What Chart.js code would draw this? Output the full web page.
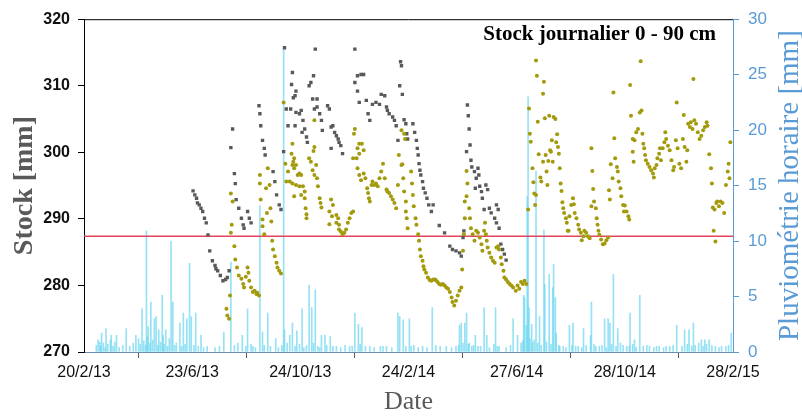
<!DOCTYPE html>
<html>
<head>
<meta charset="utf-8">
<script src="https://cdn.jsdelivr.net/npm/chart.js@4.4.1/dist/chart.umd.min.js"></script>
<style>
  html, body { margin: 0; padding: 0; background: #fff; }
</style>
</head>
<body>
<canvas id="myChart" width="802" height="416"></canvas>
<script>
// x = days since 20/2/13
const tickDays = [0, 123, 246, 369, 492, 615, 738];
const tickLabels = ["20/2/13", "23/6/13", "24/10/13", "24/2/14", "27/6/14", "28/10/14", "28/2/15"];
const seuil = 287.4;

// stock, series 1 (grey squares) [day, mm]
const stockGris = [
  [124,294.2],[126,293.6],[128,293.1],[129,292.4],[131,292.1],[133,291.6],[135,291.1],[137,290.1],[139,289.4],
  [141,287.6],[143,285.2],[146,283.7],[149,283.0],[150,282.5],[152,282.2],[155,281.5],[158,280.7],[161,280.9],[163,281.2],[165,282.2],
  [167,300.7],[169,303.5],[171,296.8],[172,295.3],[173,292.9],[176,291.6],[179,290.1],[181,289.1],[182,288.6],[186,291.1],[188,290.1],[190,289.4],
  [199,307.0],[200,305.8],[201,304.0],[203,301.8],[205,300.6],[206,299.6],[215,297.1],[217,295.6],[219,293.6],[222,292.1],[224,291.4],
  [227,300.1],[228,315.7],[230,306.5],[232,304.0],[235,306.5],[236,310.2],[237,312.0],[238,308.2],[240,308.5],[241,309.2],[241,306.0],[240,304.0],
  [245,305.8],[247,306.3],[248,303.0],[249,304.8],[251,303.5],[253,302.3],[254,301.5],
  [256,310.0],[258,310.5],[261,311.5],[263,315.5],[260,308.0],[265,308.0],[262,306.5],[265,306.8],[268,305.8],[270,304.8],[271,303.3],
  [277,307.0],[279,306.5],[281,303.8],[281,300.6],[283,304.0],[285,303.0],[287,302.5],[289,302.0],[290,301.5],[292,301.0],[294,299.8],
  [308,315.5],[308,310.5],[311,311.5],[311,309.2],[313,307.5],[315,311.7],[318,311.7],[321,307.8],[323,305.8],[325,304.8],[328,307.2],
  [332,307.5],[336,307.2],[338,308.7],[342,308.5],[344,306.8],[345,306.3],[347,305.8],[351,305.3],[353,304.8],[355,304.0],[357,301.8],
  [359,310.0],[360,313.6],[361,313.0],[362,308.7],[364,304.9],[366,304.3],[367,302.8],[368,302.0],[374,304.3],[376,303.0],[378,301.8],
  [379,300.6],[380,299.6],[381,298.3],[382,297.3],[383,296.6],[385,295.6],[386,294.6],[388,293.9],[390,293.1],[392,292.1],[395,291.1],[397,292.1],
  [404,289.0],[410,287.9],[416,285.9],[419,285.4],[423,285.2],[427,284.9],[429,284.4],[431,287.2],
  [432,288.2],[435,300.1],[436,307.1],[437,305.5],[438,303.5],[439,301.1],[440,298.8],[441,297.8],[444,297.1],[445,294.6],[446,296.1],
  [448,297.6],[449,296.6],[450,294.9],[452,294.1],[453,293.1],[455,291.4],[457,295.1],[459,294.4],[461,291.6],[463,290.9],[467,290.1],
  [469,292.1],[469,289.4],[471,291.4],[472,288.6],[474,286.2],[476,285.4],[478,284.7],[480,283.8]
];

// stock, series 2 (olive dots) [day, mm]
const stockOlive = [
  [162,276.5],[163,275.5],[165,275.0],[166,278.5],[167,287.9],[168,289.1],[167,293.8],[169,292.6],[171,285.9],[172,283.9],[174,282.7],
  [176,281.5],[179,281.0],[181,280.2],[182,279.7],[184,281.3],[186,282.7],[187,281.9],[188,280.7],[190,279.7],[192,279.0],[194,279.2],
  [196,278.7],[197,278.9],[199,278.5],
  [200,296.6],[200,295.3],[201,292.9],[203,289.9],[203,288.9],[205,287.7],[207,294.6],[208,290.9],[209,297.6],[211,295.1],[212,291.6],
  [213,289.6],[214,286.7],[215,285.4],[217,284.4],[219,283.4],[220,282.7],[222,282.2],[224,281.8],
  [227,307.5],[229,298.3],[230,295.6],[232,297.1],[234,295.6],[236,299.8],[237,301.3],[237,298.1],[237,295.3],[238,298.6],[239,299.1],
  [239,297.6],[239,293.4],[241,298.1],[241,295.1],[243,296.6],[245,296.8],[245,294.9],[247,296.6],[247,293.6],[249,294.9],[251,294.1],
  [251,293.1],[252,291.6],[253,290.7],[253,290.1],
  [256,299.1],[258,298.6],[260,297.3],[261,300.2],[262,304.8],[262,300.8],[262,296.6],[264,298.1],[265,296.1],[266,294.9],[268,293.1],
  [269,292.4],[270,291.7],
  [279,291.1],[279,289.2],[281,292.9],[282,290.4],[283,292.1],[287,290.6],[287,289.4],[289,290.1],[290,289.1],[290,288.4],[292,288.1],
  [294,287.7],[296,287.9],[298,288.4],[300,289.4],[302,290.1],[304,290.9],[306,291.1],
  [306,299.1],[307,302.8],[308,303.5],[310,299.1],[311,300.6],[311,297.6],[313,301.3],[313,299.8],[313,296.6],[315,295.8],[316,301.3],
  [318,300.3],[318,296.8],[320,296.1],[322,294.6],[323,293.9],[324,293.1],[325,292.6],[327,295.1],[328,295.6],[330,295.1],[332,295.3],
  [334,294.9],[336,296.1],[338,297.1],[340,298.3],[342,296.1],[344,294.4],[345,294.1],[347,293.9],[349,293.4],[351,292.9],[353,292.4],
  [355,291.6],[357,295.1],[358,299.6],
  [361,303.3],[361,298.1],[362,298.2],[363,296.1],[364,302.8],[364,294.1],[365,302.0],[366,292.6],[366,291.1],[367,290.1],[368,288.6],
  [372,297.1],[373,295.3],[374,293.6],[375,291.9],[377,290.1],[378,289.1],[380,287.7],[381,286.7],[382,285.4],[383,284.4],[385,283.7],
  [386,282.9],[387,282.4],[389,281.9],[391,281.2],[393,280.8],[395,280.7],[397,280.9],[399,280.9],[400,280.8],[402,280.5],[404,280.2],
  [406,280.1],[408,280.2],[410,280.0],[412,279.7],[414,279.5],[416,279.0],[418,278.2],[419,277.5],[421,277.0],[423,277.7],[425,278.5],
  [427,279.2],[429,279.7],
  [430,282.4],[431,285.2],[432,287.7],[433,290.1],[433,292.6],[435,293.4],[435,297.2],[436,295.3],[438,291.6],[439,290.1],[440,288.6],
  [442,287.7],[444,286.7],[446,288.2],[448,287.9],[450,287.2],[452,286.2],[453,285.2],[455,288.2],[456,289.4],[457,287.7],[458,286.7],
  [459,285.7],[461,284.9],[463,284.2],[465,283.7],[467,283.4],[469,285.7],[471,285.9],[472,285.4],[474,284.2],[475,283.2],[477,282.2],
  [478,281.2],[480,280.9],[482,280.5],[484,280.2],[486,280.0],[488,279.7],[491,279.2],[493,280.0],[495,279.5],[497,280.5],[499,280.2],
  [501,280.7],[503,280.2],
  [505,291.4],[506,306.6],[507,302.8],[508,301.6],[510,297.6],[511,295.5],[512,293.8],[513,292.1],[514,293.6],[514,313.8],[515,311.5],
  [516,304.6],[517,299.7],[519,296.2],[520,295.6],[522,298.6],[522,308.8],[523,310.6],[524,305.1],[525,299.6],[526,297.1],[527,295.1],
  [528,298.7],[529,305.5],[530,300.3],[531,300.1],[532,301.8],[533,298.6],[534,305.3],[536,305.0],[537,301.5],[538,302.7],[539,300.8],
  [540,299.8],[541,297.6],[542,295.3],[543,294.2],[544,292.5],[545,291.6],[546,290.9],[548,290.1],[549,289.4],[550,288.2],[551,288.2],
  [552,290.4],[554,292.1],[556,293.1],[557,292.2],[558,290.9],[560,290.1],[562,289.1],[563,288.4],[565,287.9],[566,286.8],[568,287.4],
  [569,288.2],[571,287.9],[573,287.4],[575,287.1],
  [577,300.6],[577,291.9],[578,297.2],[579,294.5],[580,292.6],[582,291.6],[583,290.1],[584,289.1],[585,288.2],[586,287.6],[588,286.9],
  [590,286.2],[592,286.3],[594,286.8],[596,287.2],[597,294.3],[598,292.9],[599,298.2],[601,296.1],[602,309.0],[603,302.1],[604,299.1],
  [606,297.8],[607,297.1],[608,295.6],[610,294.6],[611,293.4],[613,292.1],[614,291.1],[615,292.0],[617,291.1],[619,290.4],[620,289.9],
  [621,310.1],[622,305.5],[624,302.0],[624,300.1],[625,298.6],[626,301.8],[628,303.0],[630,303.5],[632,306.0],[633,313.7],[634,306.3],
  [635,302.8],[636,301.3],[637,300.6],[638,299.6],[639,298.8],[641,298.3],[643,297.8],[645,297.3],[647,296.8],[648,296.2],[649,297.6],
  [651,298.1],[652,299.1],[654,299.8],[655,300.6],[656,298.8],[658,300.6],[660,301.5],[661,303.0],[662,302.0],[664,301.0],[666,300.3],
  [668,298.8],[670,297.3],[671,297.8],[673,301.8],[674,307.5],[675,300.6],[677,298.3],[679,297.6],[681,302.0],[682,305.6],[683,300.8],
  [685,298.6],[686,300.3],[687,304.3],[689,303.8],[690,304.5],[692,303.5],[693,311.0],[694,304.8],[696,304.3],[698,303.0],[700,302.0],
  [702,302.5],[704,303.3],[706,303.8],[708,304.5],[709,304.0],[711,299.7],[713,297.6],[714,295.3],[715,291.7],[716,288.2],[717,291.4],
  [718,286.6],[719,292.4],[720,292.6],[722,291.9],[724,292.6],[726,292.4],[728,290.9],[730,295.1],[732,297.1],[733,298.3],[734,296.1],
  [735,301.5]
];

// hourly rainfall [day, mm]
const pluie = [
  [14,0.6],[16,1.1],[18,0.9],[19,0.5],[20,1.7],[22,0.8],[24,0.4],[25,2.1],[27,0.7],[30,1.1],[31,1.5],[33,0.5],[35,0.9],[37,1.5],
  [40,0.4],[44,0.6],[48,2.1],[52,0.5],[56,0.8],[59,1.5],[62,1.2],[64,0.7],[66,3.9],[68,1.0],[70,0.6],[71,10.9],[72,1.4],[73,2.3],
  [75,0.8],[76,4.5],[78,1.1],[80,3.0],[82,3.2],[84,0.6],[85,2.0],[87,0.9],[89,5.1],[90,1.5],[91,0.7],[93,2.0],[95,0.5],[97,1.2],
  [99,10.0],[101,4.5],[103,0.6],[105,0.8],[109,2.6],[111,0.5],[113,3.5],[115,0.7],[117,3.0],[120,8.0],[122,3.2],[125,0.6],[127,3.5],
  [130,0.5],[133,1.5],[136,0.4],[140,0.5],[149,0.4],[154,0.5],[159,1.8],[167,8.1],[171,0.6],[175,0.8],[180,1.5],[184,0.5],[186,3.9],
  [190,0.7],[192,0.5],[195,0.4],[200,13.2],[203,1.8],[205,0.6],[209,3.5],[212,0.5],[218,1.2],[221,0.4],[225,0.6],[227,27.4],[228,2.0],
  [231,0.8],[234,1.5],[237,2.6],[240,0.5],[242,1.9],[245,0.7],[248,3.9],[250,0.4],[253,0.6],[256,6.0],[259,4.0],[261,0.8],[263,5.6],
  [266,0.5],[268,0.4],[270,1.5],[274,1.5],[276,0.6],[280,1.4],[283,0.5],[287,0.5],[292,0.4],[297,0.6],[302,0.5],[305,0.5],[308,3.5],
  [312,2.5],[314,0.7],[316,2.2],[320,0.5],[325,0.5],[330,0.4],[337,0.5],[340,0.5],[344,0.5],[350,0.4],[357,3.5],[359,3.2],[363,2.9],
  [366,0.5],[370,3.0],[372,0.5],[375,0.6],[380,0.4],[385,0.5],[390,0.4],[396,4.0],[400,0.6],[405,0.5],[412,0.5],[418,0.4],[423,0.5],
  [426,0.6],[427,2.4],[429,2.6],[431,0.8],[433,2.6],[435,3.5],[437,0.7],[438,0.8],[441,0.5],[443,0.6],[445,1.5],[448,0.5],[451,0.5],
  [455,4.0],[458,1.5],[461,0.4],[466,0.7],[468,4.0],[470,0.5],[472,0.5],[480,0.4],[485,0.6],[488,3.0],[493,1.5],[497,0.8],[499,1.0],
  [500,5.1],[501,4.9],[503,2.4],[504,14.0],[505,23.0],[506,4.0],[507,1.2],[509,2.5],[510,0.9],[512,1.1],[514,16.3],[516,0.8],[518,3.2],
  [520,0.6],[523,11.0],[524,6.1],[526,0.9],[529,7.0],[531,0.7],[533,5.8],[534,7.9],[536,4.9],[537,1.7],[540,0.6],[541,0.5],[545,0.5],
  [548,0.4],[552,2.4],[555,0.6],[556,2.6],[559,0.5],[562,0.5],[566,0.4],[568,2.1],[571,0.6],[576,1.5],[577,4.5],[580,0.7],[582,0.5],
  [586,0.5],[589,0.6],[592,3.0],[594,0.4],[596,3.0],[598,2.6],[600,0.7],[602,7.0],[605,0.5],[607,2.1],[610,0.8],[613,0.6],[617,0.5],
  [620,0.5],[621,3.5],[624,0.7],[626,1.1],[628,0.4],[632,5.1],[636,0.5],[640,0.6],[643,0.5],[648,0.4],[651,0.5],[654,0.5],[659,0.4],
  [662,0.5],[666,0.5],[670,0.6],[674,2.4],[680,0.5],[683,2.0],[686,0.7],[688,2.0],[691,0.5],[693,2.6],[695,0.6],[699,0.8],[702,1.1],
  [704,0.5],[706,1.1],[708,0.7],[711,1.1],[714,0.6],[718,0.5],[722,0.4],[725,0.5],[730,0.5],[733,0.6],[736,1.7]
];

const toXY = (arr) => arr.map((p) => ({ x: p[0], y: p[1] }));

// extra drawing: top border, inner label, right axis title (reads bottom to top)
const decorations = {
  id: "decorations",
  afterDraw(chart) {
    const { ctx, chartArea } = chart;
    ctx.save();
    ctx.strokeStyle = "#000";
    ctx.lineWidth = 1;
    ctx.beginPath();
    ctx.moveTo(chartArea.left, chartArea.top + 0.5);
    ctx.lineTo(chartArea.right, chartArea.top + 0.5);
    ctx.stroke();

    ctx.fillStyle = "#000";
    ctx.font = "bold 21px 'Liberation Serif'";
    ctx.textAlign = "right";
    ctx.textBaseline = "middle";
    ctx.fillText("Stock journalier 0 - 90 cm", chartArea.right - 17, chartArea.top + 15);

    ctx.translate(790, (chartArea.top + chartArea.bottom) / 2);
    ctx.rotate(-Math.PI / 2);
    ctx.fillStyle = "#5B9BD5";
    ctx.font = "29px 'Liberation Serif'";
    ctx.textAlign = "center";
    ctx.fillText("Pluviométrie horaire [mm]", 0, 0);
    ctx.restore();
  }
};

var ctx = document.getElementById("myChart").getContext("2d");

var myChart = new Chart(ctx, {
  type: "scatter",
  data: {
    datasets: [
      {
        type: "scatter",
        label: "Stock 2",
        data: toXY(stockOlive),
        yAxisID: "y",
        pointStyle: "circle",
        pointRadius: 2,
        borderWidth: 0,
        backgroundColor: "#A39A0C",
        order: 1
      },
      {
        type: "scatter",
        label: "Stock 1",
        data: toXY(stockGris),
        yAxisID: "y",
        pointStyle: "rect",
        pointRadius: 2.4,
        borderWidth: 0,
        backgroundColor: "#595959",
        order: 2
      },
      {
        type: "line",
        label: "Seuil",
        data: [{ x: tickDays[0], y: seuil }, { x: tickDays[tickDays.length - 1], y: seuil }],
        yAxisID: "y",
        borderColor: "#E2445C",
        borderWidth: 1.6,
        pointRadius: 0,
        order: 3
      },
      {
        type: "bar",
        label: "Pluie",
        data: toXY(pluie),
        yAxisID: "y2",
        barThickness: 1,
        backgroundColor: "rgba(105, 214, 240, 0.7)",
        order: 4
      }
    ]
  },
  options: {
    responsive: false,
    animation: false,
    layout: { padding: { top: 16, left: 0, right: 0, bottom: 0 } },
    plugins: {
      legend: { display: false },
      tooltip: { enabled: false }
    },
    scales: {
      x: {
        type: "linear",
        min: tickDays[0],
        max: tickDays[tickDays.length - 1],
        offset: false,
        afterBuildTicks: (s) => { s.ticks = tickDays.map((v) => ({ value: v })); },
        afterFit: (s) => { s.height = 64; },
        grid: { drawOnChartArea: false, drawTicks: true, tickLength: 6, color: "#595959" },
        border: { color: "#6F8DB3", width: 1 },
        ticks: {
          autoSkip: false,
          maxRotation: 0,
          padding: 5,
          color: "#111",
          font: { family: "Liberation Sans", size: 16 },
          callback: (v, i) => tickLabels[i]
        },
        title: {
          display: true,
          text: "Date",
          color: "#595959",
          font: { family: "Liberation Serif", size: 26 },
          padding: { top: 0, bottom: -2 }
        }
      },
      y: {
        position: "left",
        min: 270,
        max: 320,
        afterFit: (s) => { s.width = 84; },
        grid: { drawOnChartArea: false, tickLength: 6, color: "#000" },
        border: { color: "#000" },
        ticks: {
          stepSize: 10,
          padding: 8,
          color: "#111",
          font: { family: "Liberation Sans", size: 16, weight: "bold" }
        },
        title: {
          display: true,
          text: "Stock [mm]",
          color: "#595959",
          font: { family: "Liberation Serif", size: 28, weight: "bold" },
          padding: { top: 8, bottom: 0 }
        }
      },
      y2: {
        position: "right",
        min: 0,
        max: 30,
        afterFit: (s) => { s.width = 69; },
        grid: { drawOnChartArea: false, tickLength: 6, color: "#5B9BD5" },
        border: { color: "#5B9BD5" },
        ticks: {
          stepSize: 5,
          padding: 9,
          color: "#5B9BD5",
          font: { family: "Liberation Sans", size: 17 }
        }
      }
    }
  },
  plugins: [decorations]
});
</script>
</body>
</html>
